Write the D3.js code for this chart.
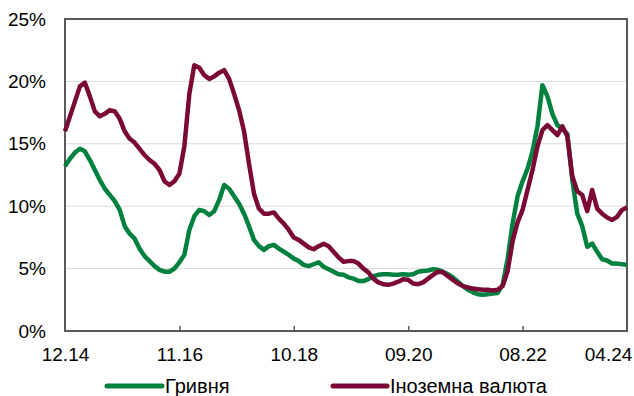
<!DOCTYPE html>
<html>
<head>
<meta charset="utf-8">
<script src="https://cdn.jsdelivr.net/npm/d3@7"></script>
<style>
  html, body { margin: 0; padding: 0; background: #fff; }
  svg { display: block; font-family: "Liberation Sans", Arial, sans-serif; }
</style>
</head>
<body>
<svg id="chart" width="634" height="396"></svg>
<script>
// ---- data (monthly, 12.2014 – 05.2024) ----
const startMonth = new Date(2014, 11, 1);
const endMonth = new Date(2024, 5, 1);
const months = d3.timeMonth.range(startMonth, endMonth).map(d3.timeFormat("%m.%y"));

const seriesNames = ["Гривня", "Іноземна валюта"];

const hryvnia = [
  13.2, 13.8, 14.3, 14.6, 14.4, 13.7, 12.9, 12.1, 11.4, 10.9,
  10.4, 9.7, 8.4, 7.8, 7.4, 6.6, 6.0, 5.6, 5.2, 4.9,
  4.75, 4.75, 5.0, 5.5, 6.1, 8.1, 9.2, 9.7, 9.6, 9.3,
  9.6, 10.5, 11.7, 11.4, 10.8, 10.2, 9.4, 8.4, 7.3, 6.8,
  6.5, 6.8, 6.9, 6.6, 6.35, 6.1, 5.8, 5.6, 5.3, 5.2,
  5.35, 5.5, 5.15, 4.95, 4.75, 4.55, 4.5, 4.3, 4.2, 4.0,
  4.0, 4.15, 4.4, 4.5, 4.55, 4.55, 4.5, 4.5, 4.55, 4.5,
  4.55, 4.75, 4.8, 4.85, 4.95, 4.9, 4.75, 4.55, 4.3, 3.95,
  3.6, 3.3, 3.1, 2.95, 2.9, 2.95, 3.0, 3.05, 3.7, 5.8,
  8.6, 10.8, 12.0, 13.0, 14.4, 16.4, 19.7, 18.8, 17.4, 16.5,
  16.2, 15.8, 12.1, 9.4, 8.4, 6.75, 7.0, 6.35, 5.75, 5.65,
  5.4, 5.4, 5.35, 5.3
];

const foreign = [
  16.0, 17.2, 18.4, 19.6, 19.9, 18.8, 17.6, 17.2, 17.4, 17.7,
  17.6, 17.0, 16.0, 15.4, 15.1, 14.6, 14.1, 13.7, 13.4, 12.9,
  12.0, 11.7, 12.0, 12.6, 14.8, 19.0, 21.3, 21.1, 20.5, 20.2,
  20.4, 20.7, 20.9, 20.2, 19.0, 17.7, 16.0, 13.4, 11.0, 9.8,
  9.4, 9.4, 9.5, 9.0, 8.6, 8.1, 7.5, 7.3, 7.0, 6.7,
  6.55, 6.8, 7.0, 6.8, 6.35, 5.9, 5.55, 5.6, 5.6, 5.4,
  5.0, 4.7, 4.2, 3.9, 3.75, 3.7, 3.8, 3.95, 4.15, 4.1,
  3.8, 3.75, 3.9, 4.2, 4.5, 4.75, 4.7, 4.4, 4.1, 3.8,
  3.6, 3.5, 3.4, 3.35, 3.3, 3.3, 3.25, 3.3, 3.6, 4.8,
  7.2, 8.7, 9.7, 11.3, 12.9, 14.8, 16.1, 16.5, 16.1, 15.7,
  16.4, 15.6, 12.4, 11.2, 10.9, 9.6, 11.3, 9.8, 9.4, 9.1,
  8.9, 9.15, 9.7, 9.9
];

const xTickLabels = ["12.14", "11.16", "10.18", "09.20", "08.22", "04.24"];
const yTicks = [0, 5, 10, 15, 20, 25];

// ---- layout ----
const colors = ["#00813F", "#7A0A35"];
const W = 634, H = 396;
const plot = { left: 65, right: 627, top: 19, bottom: 331 };
const fontSize = 19;
const legendFontSize = 20;

const svg = d3.select("#chart");

const x = d3.scalePoint().domain(months).range([plot.left, plot.right]);
const y = d3.scaleLinear().domain([0, 25]).range([plot.bottom, plot.top]);

// gridlines
svg.append("g")
  .selectAll("line")
  .data(yTicks.filter(t => t > 0 && t < 25))
  .join("line")
  .attr("x1", plot.left).attr("x2", plot.right)
  .attr("y1", d => y(d)).attr("y2", d => y(d))
  .attr("stroke", "#d9d9d9").attr("stroke-width", 1);

// y axis labels
const yAxis = d3.axisLeft(y).tickValues(yTicks).tickSize(0).tickPadding(19)
  .tickFormat(d => d + "%");
const gy = svg.append("g").attr("transform", `translate(${plot.left},0)`).call(yAxis);
gy.select(".domain").remove();
gy.selectAll("text").attr("font-size", fontSize).attr("fill", "#000")
  .attr("font-family", "Liberation Sans, Arial, sans-serif");

// x axis
const xAxis = d3.axisBottom(x).tickValues(xTickLabels).tickSize(-5).tickPadding(17);
const gx = svg.append("g").attr("transform", `translate(0,${plot.bottom})`).call(xAxis);
gx.select(".domain").remove();
gx.selectAll(".tick line").attr("stroke", "#595959").attr("stroke-width", 1.5)
  .attr("display", (d, i) => (i === 0 || i === xTickLabels.length - 1) ? "none" : null);
gx.selectAll("text").attr("font-size", fontSize).attr("fill", "#000")
  .attr("font-family", "Liberation Sans, Arial, sans-serif");
// keep last label inside the page (as in the original)
gx.selectAll(".tick").each(function(d) {
  const t = d3.select(this).select("text");
  const bb = t.node().getBBox();
  const cx = x(d);
  const rightEdge = cx + bb.width / 2;
  if (rightEdge > W - 2) {
    t.attr("x", (W - 2) - rightEdge);
  }
});

// frame
svg.append("rect")
  .attr("x", plot.left).attr("y", plot.top)
  .attr("width", plot.right - plot.left).attr("height", plot.bottom - plot.top)
  .attr("fill", "none").attr("stroke", "#595959").attr("stroke-width", 2);

// lines
const line = d3.line().x((d, i) => x(months[i])).y(d => y(d));
[hryvnia, foreign].forEach((s, k) => {
  svg.append("path")
    .datum(s)
    .attr("d", line)
    .attr("fill", "none")
    .attr("stroke", colors[k])
    .attr("stroke-width", 4.5)
    .attr("stroke-linejoin", "round");
});

// legend
const legendItems = [
  { name: seriesNames[0], color: colors[0], x1: 107, x2: 162 },
  { name: seriesNames[1], color: colors[1], x1: 333, x2: 387 }
];
const lg = svg.append("g");
legendItems.forEach(it => {
  lg.append("line")
    .attr("x1", it.x1).attr("x2", it.x2).attr("y1", 386).attr("y2", 386)
    .attr("stroke", it.color).attr("stroke-width", 5).attr("stroke-linecap", "round");
  lg.append("text")
    .attr("x", it.x2 + 3).attr("y", 386).attr("dy", "0.36em")
    .attr("font-size", legendFontSize).attr("fill", "#000")
    .text(it.name);
});
</script>
</body>
</html>
